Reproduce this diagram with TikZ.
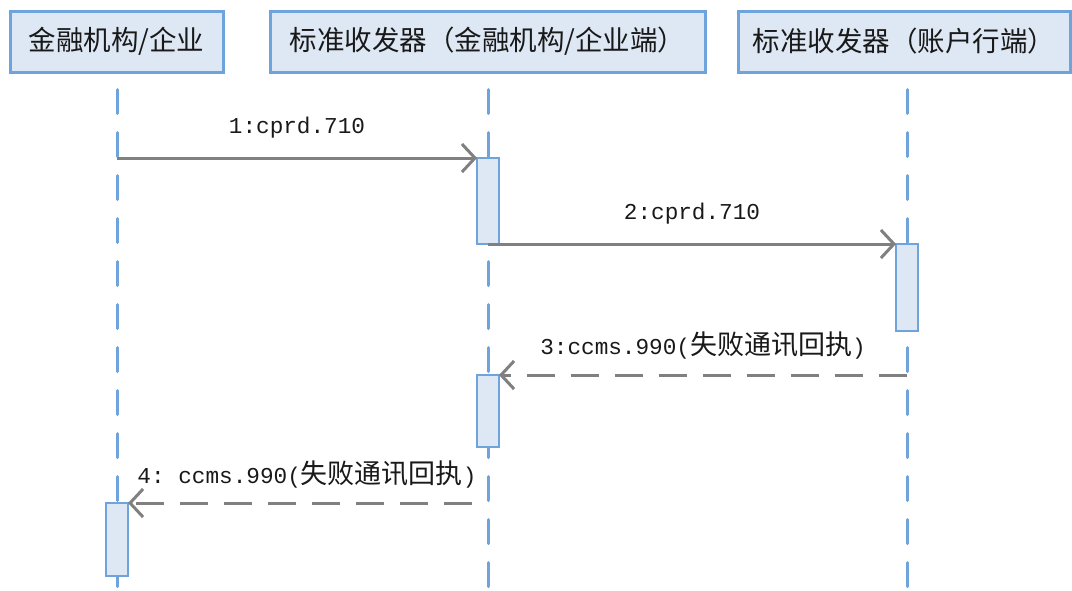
\documentclass[tikz,border=0pt]{standalone}
\usepackage{fontspec}
\setmonofont{Liberation Mono}
\newfontfamily\cjk{Noto Sans CJK SC}
\usetikzlibrary{arrows.meta}
\definecolor{lblue}{HTML}{6FA3DC}
\definecolor{fblue}{HTML}{DEE8F4}
\definecolor{agray}{HTML}{808080}
\newcommand\zhtext[1]{{\cjk\fontsize{27}{30}\selectfont #1}}
\begin{document}
\begin{tikzpicture}[x=1pt,y=-1pt,
  header/.style={draw=lblue, fill=fblue, line width=3pt, inner sep=0pt, minimum height=61pt, text=black!90, font=\cjk\fontsize{27.5}{30}\selectfont},
  act/.style={draw=lblue, fill=fblue, line width=2pt, minimum width=22pt, inner sep=0pt, outer sep=0pt},
  life/.style={draw=lblue, line width=3pt, line cap=round, dash pattern=on 24pt off 19pt},
  msg/.style={draw=agray, line width=3pt, -{Straight Barb[length=13pt,width=28pt]}},
  ret/.style={msg, dash pattern=on 28pt off 16pt},
  lab/.style={font=\ttfamily\fontsize{22.7}{26}\selectfont, text=black!90, inner sep=0pt}]
\useasboundingbox (0,0) rectangle (1072,590);
% headers
\node[header, minimum width=213pt] (h1) at (116.5,41.5) {金融机构/企业};
\node[header, minimum width=435pt] (h2) at (487.5,41.5) {标准收发器（金融机构/企业端）};
\node[header, minimum width=332pt] (h3) at (904,41.5) {标准收发器（账户行端）};
% lifelines
\coordinate (l1t) at (117,89.5);  \coordinate (l1b) at (117,600);
\coordinate (l2t) at (488,89.5);  \coordinate (l2b) at (488,600);
\coordinate (l3t) at (907,89.5);  \coordinate (l3b) at (907,600);
\draw[life] (l1t) -- (l1b);
\draw[life] (l2t) -- (l2b);
\draw[life] (l3t) -- (l3b);
% activations
\node[act, minimum height=86pt] (a1) at (488,201) {};
\node[act, minimum height=87pt] (a2) at (907,287.5) {};
\node[act, minimum height=72pt] (a3) at (488,411) {};
\node[act, minimum height=73pt] (a4) at (117,539.5) {};
% messages
\draw[msg] (l1t |- a1.north) -- (a1.north west);
\draw[msg] (a1.south) -- (a2.north west);
\draw[ret] (l3t |- a3.north) -- (a3.north east);
\coordinate (m4s) at (472,503);
\draw[ret] (m4s) -- (a4.north east);
% labels
\node[lab] (t1) at (297,128) {1:cprd.710};
\node[lab] (t2) at (692,214) {2:cprd.710};
\node[lab] (t3) at (703,345) {3:ccms.990(\zhtext{失败通讯回执})};
\node[lab] (t4) at (307,474) {4: ccms.990(\zhtext{失败通讯回执})};
\end{tikzpicture}
\end{document}
